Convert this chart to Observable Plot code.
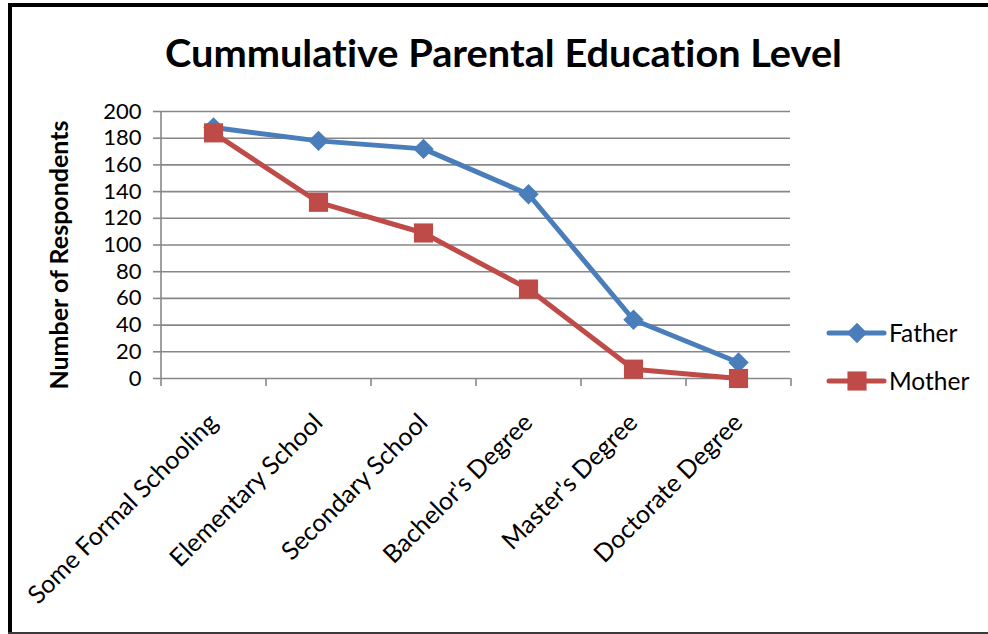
<!DOCTYPE html>
<html>
<head>
<meta charset="utf-8">
<script src="https://cdn.jsdelivr.net/npm/d3@7"></script>
<script src="https://cdn.jsdelivr.net/npm/@observablehq/plot@0.6"></script>
<style>
  body { margin: 0; background: #fff; }
  #chart { position: relative; width: 988px; height: 634px; overflow: hidden; font-family: Lato, "Open Sans", sans-serif; font-variant-ligatures: none; font-feature-settings: "liga" 0; }
  #chart text { font-variant-ligatures: none; font-feature-settings: "liga" 0; }
  .edge { position: absolute; }
  #chart svg { position: absolute; left: 0; top: 0; }
</style>
</head>
<body>
<div id="chart">
  <div class="edge" style="left:8px;top:3px;width:980px;height:4px;background:#000"></div>
  <div class="edge" style="left:8px;top:3px;width:4px;height:631px;background:#000"></div>
  <div class="edge" style="left:8px;top:632px;width:980px;height:2px;background:#3a3a3a"></div>
</div>
<script>
// Education levels along the x axis
const categories = [
  "Some Formal Schooling",
  "Elementary School",
  "Secondary School",
  "Bachelor's Degree",
  "Master's Degree",
  "Doctorate Degree"
];
// Cumulative number of respondents per level
const fatherCounts = [188, 178, 172, 138, 44, 12];
const motherCounts = [184, 132, 109, 67, 7, 0];

const seriesNames = ["Father", "Mother"];
const seriesColors = ["#4A7EBB", "#BE4B48"];
const yTicks = [0, 20, 40, 60, 80, 100, 120, 140, 160, 180, 200];

const titleText = "Cummulative Parental Education Level";
const yLabel = "Number of Respondents";

const rows = [
  ...categories.map((level, i) => ({level, series: "Father", value: fatherCounts[i]})),
  ...categories.map((level, i) => ({level, series: "Mother", value: motherCounts[i]}))
];

const W = 988, H = 634;
const margin = {left: 160, right: 198, top: 111, bottom: 256};
const half = (W - margin.left - margin.right) / categories.length / 2;
const axisGray = "#878787";
const font = "Lato, 'Open Sans', sans-serif";

// marker shapes per series
const markerSymbol = {Father: "diamond2", Mother: "square"};
const markerR = {Father: 9.2, Mother: 10.8};

const seriesMarks = seriesNames.flatMap(name => {
  const d = rows.filter(r => r.series === name);
  return [
    Plot.line(d, {x: "level", y: "value", stroke: "series", strokeWidth: 5, strokeLinejoin: "round"}),
    Plot.dot(d, {x: "level", y: "value", fill: "series", symbol: markerSymbol[name], r: markerR[name]})
  ];
});

const chart = Plot.plot({
  width: W,
  height: H,
  marginLeft: margin.left,
  marginRight: margin.right,
  marginTop: margin.top,
  marginBottom: margin.bottom,
  style: {fontFamily: font, fontSize: "22px", color: "#000", background: "transparent", overflow: "visible"},
  x: {type: "point", domain: categories, padding: 0.5},
  y: {domain: [0, 200]},
  color: {domain: seriesNames, range: seriesColors},
  marks: [
    Plot.ruleY(yTicks, {stroke: axisGray, strokeWidth: 1.6}),
    Plot.axisY({ticks: yTicks, tickSize: 7, tickPadding: 12, stroke: axisGray, strokeWidth: 1.6, fontSize: 22, fill: "#000", label: null}),
    // vertical axis line and category boundary ticks
    Plot.ruleX([categories[0]], {x: d => d, dx: -half, y1: () => -6, y2: () => 200, stroke: axisGray, strokeWidth: 1.6}),
    Plot.ruleX(categories.slice(1), {x: d => d, dx: -half, y1: () => 0, y2: () => -6, stroke: axisGray, strokeWidth: 1.6}),
    Plot.ruleX([categories[categories.length - 1]], {x: d => d, dx: half, y1: () => 0, y2: () => -6, stroke: axisGray, strokeWidth: 1.6}),
    Plot.axisX({tickSize: 0, tickRotate: -45, tickPadding: 40, fontSize: 25, fill: "#000", label: null}),
    ...seriesMarks
  ]
});
document.getElementById("chart").appendChild(chart);

// title, axis title and legend layer
const overlay = d3.select("#chart").append("svg")
  .attr("width", W).attr("height", H)
  .style("pointer-events", "none");

overlay.append("text")
  .attr("x", 503.5).attr("y", 67)
  .attr("text-anchor", "middle")
  .attr("font-family", font)
  .attr("font-weight", "bold")
  .attr("font-size", 38)
  .attr("textLength", 677)
  .attr("lengthAdjust", "spacingAndGlyphs")
  .attr("fill", "#000")
  .text(titleText);

overlay.append("text")
  .attr("transform", "translate(62,255) rotate(-90)")
  .attr("text-anchor", "middle")
  .attr("dominant-baseline", "middle")
  .attr("font-family", font)
  .attr("font-weight", "bold")
  .attr("font-size", 25)
  .attr("fill", "#000")
  .text(yLabel);

const legendY = [333, 381];
const d3Symbol = {diamond2: d3.symbolDiamond2, square: d3.symbolSquare};
seriesNames.forEach((name, i) => {
  const g = overlay.append("g").attr("transform", `translate(0,${legendY[i]})`);
  g.append("line").attr("x1", 829).attr("x2", 884).attr("y1", 0).attr("y2", 0)
    .attr("stroke", seriesColors[i]).attr("stroke-width", 5).attr("stroke-linecap", "round");
  const r = markerR[name];
  g.append("path")
    .attr("transform", "translate(857,0)")
    .attr("d", d3.symbol(d3Symbol[markerSymbol[name]], r * r * Math.PI)())
    .attr("fill", seriesColors[i]);
  g.append("text").attr("x", 889).attr("y", 8.5)
    .attr("font-family", font)
    .attr("font-size", 24.5).attr("fill", "#000")
    .text(name);
});
</script>
</body>
</html>
